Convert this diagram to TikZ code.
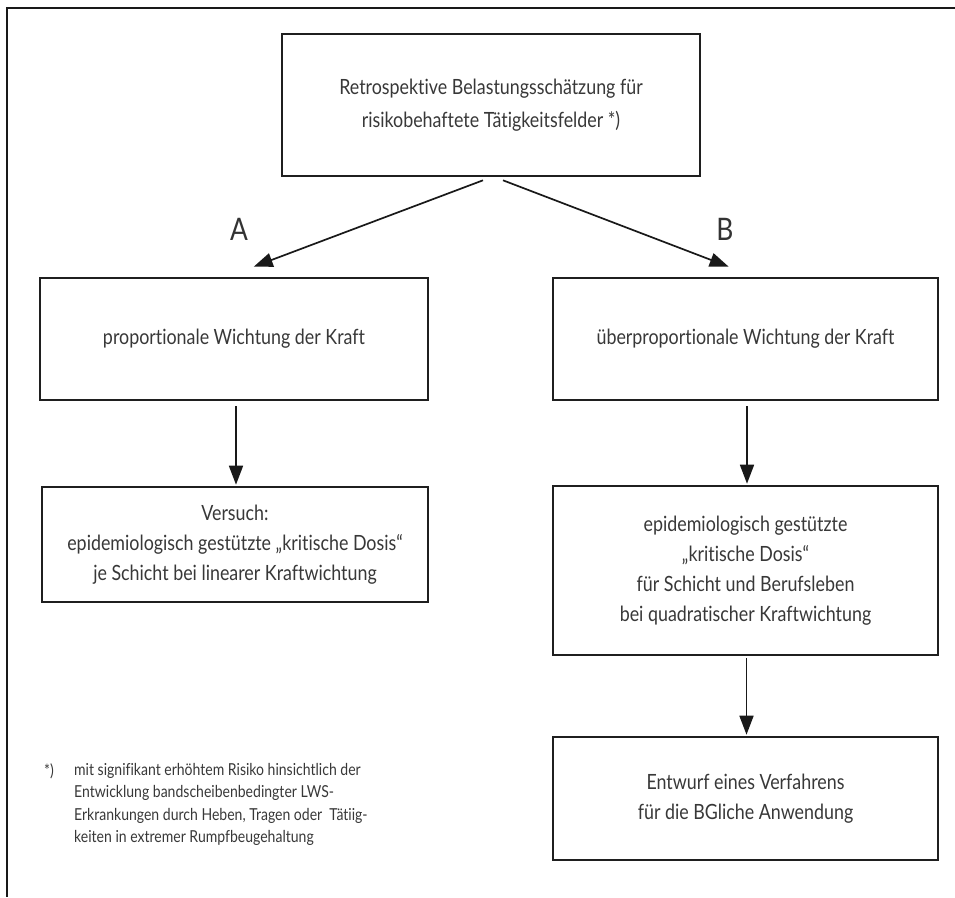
\documentclass[tikz,border=0pt]{standalone}
\usepackage{fontspec}
\setmainfont{Lato}[FakeStretch=0.85,Ligatures=NoCommon]
\usetikzlibrary{arrows.meta}
\begin{document}
\begin{tikzpicture}[x=1pt,y=-1pt,
  box/.style={draw=black!88,line width=2.6pt,align=center,text=black!78,
    font=\fontsize{21}{30}\selectfont,inner sep=0pt},
  arr/.style={-{Triangle[length=19pt,width=14pt]},line width=1.7pt,draw=black!90},
  lab/.style={text=black!80,font=\fontsize{31}{32}\selectfont,inner sep=0pt},
  fn/.style={text=black!78,font=\fontsize{16.5}{22.5}\selectfont,inner sep=0pt,anchor=north west,align=left}]
\useasboundingbox (0,0) rectangle (955,897);
\draw[line width=2pt,black!90] (955,8) -- (7,8) -- (7,897);

\node[box,minimum width=418pt,minimum height=142pt] (top) at (491,105)
  {\raisebox{4pt}{\begin{tabular}{@{}c@{}}Retrospektive Belastungsschätzung für\\[3pt]risikobehaftete Tätigkeitsfelder *)\end{tabular}}};
\node[box,minimum width=388pt,minimum height=122pt] (a1) at (234,339)
  {proportionale Wichtung der Kraft};
\node[box,minimum width=385pt,minimum height=122pt] (b1) at (745.5,339)
  {überproportionale Wichtung der Kraft};
\node[box,minimum width=386pt,minimum height=115pt] (a2) at (235,544.5)
  {\raisebox{-5pt}{\begin{tabular}{@{}c@{}}Versuch:\\epidemiologisch gestützte „kritische Dosis“\\je Schicht bei linearer Kraftwichtung\end{tabular}}};
\node[box,minimum width=385pt,minimum height=169pt] (b2) at (745.5,570.5)
  {\raisebox{6pt}{\begin{tabular}{@{}c@{}}epidemiologisch gestützte\\„kritische Dosis“\\für Schicht und Berufsleben\\bei quadratischer Kraftwichtung\end{tabular}}};
\node[box,minimum width=385pt,minimum height=123pt] (b3) at (745.5,798.5)
  {Entwurf eines Verfahrens\\für die BGliche Anwendung};

\node[lab] (la) at (239,229) {A};
\node[lab] (lb) at (725,229) {B};

\draw[arr] ([xshift=-8pt,yshift=-3pt]top.south) -- ([xshift=215pt,yshift=10pt]a1.north west);
\draw[arr] ([xshift=12pt,yshift=-3pt]top.south) -- ([xshift=177pt,yshift=10pt]b1.north west);
\draw[arr] ([xshift=2pt,yshift=-5pt]a1.south) -- ([xshift=1pt,yshift=1pt]a2.north);
\draw[arr] ([xshift=1.5pt,yshift=-5pt]b1.south) -- ([xshift=1.5pt,yshift=1pt]b2.north);
\draw[arr] ([xshift=1pt,yshift=-2pt]b2.south) -- ([xshift=1pt,yshift=1pt]b3.north);

\node[fn] (star) at (44,763) {*)};
\node[fn] (note) at (74,763) {mit signifikant erhöhtem Risiko hinsichtlich der\\Entwicklung bandscheibenbedingter LWS-\\Erkrankungen durch Heben, Tragen oder\ \ Tätiig-\\keiten in extremer Rumpfbeugehaltung};
\end{tikzpicture}
\end{document}
